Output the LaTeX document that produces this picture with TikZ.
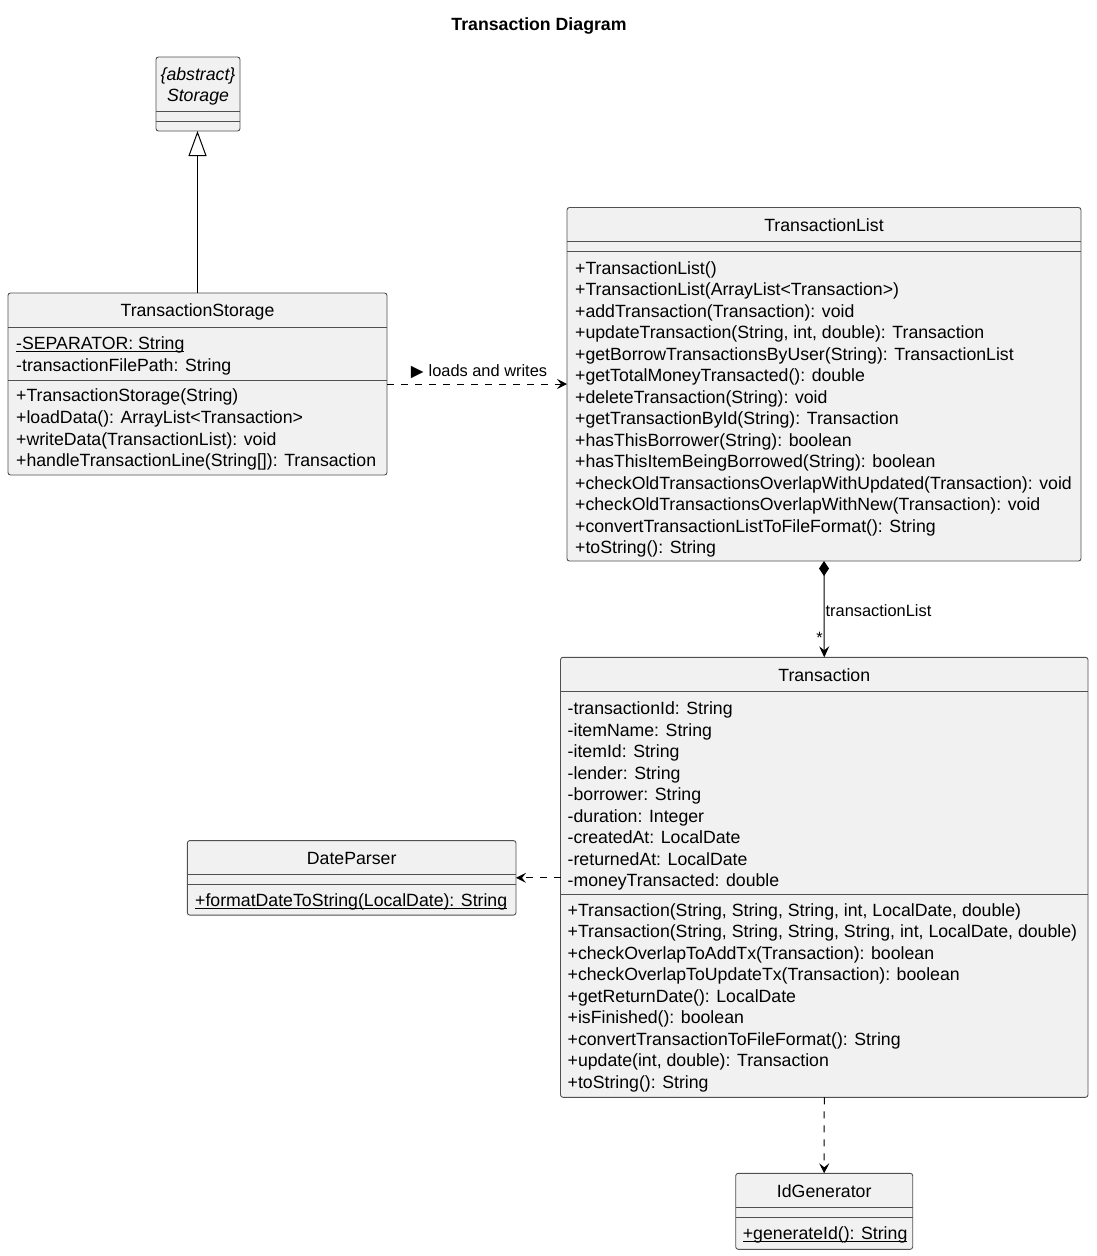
\documentclass[tikz,border=0pt]{standalone}
\usepackage{fontspec}
\setmainfont{Liberation Sans}
\usetikzlibrary{arrows.meta}
\definecolor{boxfill}{HTML}{F1F1F1}
\definecolor{boxline}{HTML}{505050}
% static members: thin rule just under the baseline
\newcommand\staticmember[1]{\setbox0\hbox{#1}\rlap{\rule[-2.2pt]{\wd0}{0.8pt}}\box0}
\tikzset{
  cls/.style={draw=boxline, fill=boxfill, line width=0.9pt, rounded corners=2.5pt, inner sep=0pt, outer sep=0pt},
  sepline/.style={draw=boxline, line width=0.9pt},
  member/.style={anchor=base west, inner sep=0pt, font=\fontsize{17.7}{21.5}\selectfont},
  clsname/.style={anchor=base, inner sep=0pt, font=\fontsize{17.7}{21.5}\selectfont},
  lbl/.style={inner sep=0pt, font=\fontsize{16.4}{19}\selectfont},
  depline/.style={line width=1pt, dash pattern=on 7pt off 7pt, -{Stealth[length=10pt,width=10pt,inset=4pt]}},
}
\begin{document}
\begin{tikzpicture}[x=1pt, y=-1pt, line join=round]
  \useasboundingbox[fill=white] (0,0) rectangle (1096,1256);
  \node[clsname, font=\fontsize{17.7}{21.5}\selectfont\bfseries] (title) at (539,30) {Transaction Diagram};

  % class boxes
  \node[cls, minimum width=84pt, minimum height=74pt] (storage) at (198,94) {};
  \node[cls, minimum width=379pt, minimum height=182pt] (tstore) at (197.5,384) {};
  \node[cls, minimum width=514pt, minimum height=353.5pt] (tlist) at (824,384.25) {};
  \node[cls, minimum width=527.5pt, minimum height=440pt] (tx) at (824.25,877.3) {};
  \node[cls, minimum width=328.7pt, minimum height=74.5pt] (dparser) at (351.65,877.85) {};
  \node[cls, minimum width=177pt, minimum height=76pt] (idgen) at (824.2,1211.3) {};

  % Storage
  \node[clsname, font=\fontsize{17.7}{21.5}\selectfont\itshape] (storageA) at (198,80.5) {\{abstract\}};
  \node[clsname, font=\fontsize{17.7}{21.5}\selectfont\itshape] (storageN) at (198,101) {Storage};
  \draw[sepline] (storage.west |- 0,111) -- (storage.east |- 0,111);
  \draw[sepline] (storage.west |- 0,121) -- (storage.east |- 0,121);

  % TransactionStorage
  \node[clsname] (tstoreN) at (197.5,316.7) {TransactionStorage};
  \draw[sepline] (tstore.west |- 0,327.3) -- (tstore.east |- 0,327.3);
  \node[member] (tstoreA1) at (16,349.5) {\staticmember{-SEPARATOR: String}};
  \node[member] (tstoreA2) at (16,371) {-transactionFilePath: String};
  \draw[sepline] (tstore.west |- 0,380) -- (tstore.east |- 0,380);
  \foreach \m [count=\i from 0] in {+TransactionStorage(String), +loadData(): ArrayList<Transaction>,
      +writeData(TransactionList): void, +handleTransactionLine(String[]): Transaction}
    \node[member] (tstoreM\i) at (16,401.8+21.6*\i) {\m};

  % TransactionList
  \node[clsname] (tlistN) at (824,231.7) {TransactionList};
  \draw[sepline] (tlist.west |- 0,241.7) -- (tlist.east |- 0,241.7);
  \draw[sepline] (tlist.west |- 0,251.7) -- (tlist.east |- 0,251.7);
  \foreach \m [count=\i from 0] in {+TransactionList(), +TransactionList(ArrayList<Transaction>),
      +addTransaction(Transaction): void, {+updateTransaction(String, int, double): Transaction},
      +getBorrowTransactionsByUser(String): TransactionList, +getTotalMoneyTransacted(): double,
      +deleteTransaction(String): void, +getTransactionById(String): Transaction,
      +hasThisBorrower(String): boolean, +hasThisItemBeingBorrowed(String): boolean,
      +checkOldTransactionsOverlapWithUpdated(Transaction): void,
      +checkOldTransactionsOverlapWithNew(Transaction): void,
      +convertTransactionListToFileFormat(): String, +toString(): String}
    \node[member] (tlistM\i) at (575,274+21.5*\i) {\m};

  % Transaction
  \node[clsname] (txN) at (824.25,681.7) {Transaction};
  \draw[sepline] (tx.west |- 0,691.7) -- (tx.east |- 0,691.7);
  \foreach \m [count=\i from 0] in {-transactionId: String, -itemName: String, -itemId: String,
      -lender: String, -borrower: String, -duration: Integer, -createdAt: LocalDate,
      -returnedAt: LocalDate, -moneyTransacted: double}
    \node[member] (txA\i) at (567.5,714.8+21.5*\i) {\m};
  \draw[sepline] (tx.west |- 0,894.5) -- (tx.east |- 0,894.5);
  \foreach \m [count=\i from 0] in {{+Transaction(String, String, String, int, LocalDate, double)},
      {+Transaction(String, String, String, String, int, LocalDate, double)},
      +checkOverlapToAddTx(Transaction): boolean, +checkOverlapToUpdateTx(Transaction): boolean,
      +getReturnDate(): LocalDate, +isFinished(): boolean,
      +convertTransactionToFileFormat(): String, {+update(int, double): Transaction},
      +toString(): String}
    \node[member] (txM\i) at (567.5,916.3+21.5*\i) {\m};

  % DateParser
  \node[clsname] (dparserN) at (351.65,864.3) {DateParser};
  \draw[sepline] (dparser.west |- 0,874) -- (dparser.east |- 0,874);
  \draw[sepline] (dparser.west |- 0,884) -- (dparser.east |- 0,884);
  \node[member] (dparserM) at (195,906.7) {\staticmember{+formatDateToString(LocalDate): String}};

  % IdGenerator
  \node[clsname] (idgenN) at (824.2,1197.3) {IdGenerator};
  \draw[sepline] (idgen.west |- 0,1207.3) -- (idgen.east |- 0,1207.3);
  \draw[sepline] (idgen.west |- 0,1217.3) -- (idgen.east |- 0,1217.3);
  \node[member] (idgenM) at (742.7,1239.3) {\staticmember{+generateId(): String}};

  % relations
  \draw[line width=1pt, -{Triangle[open, length=25pt, width=18pt, line width=1pt]}] (tstore.north) -- (tstore.north |- storage.south);
  \draw[depline] (tstore.east) -- (tlist.west |- tstore.east)
    node[lbl, pos=0.5, anchor=base, yshift=7.6pt] (loadsL) {\raisebox{-1.6pt}{\fontsize{21}{21}\selectfont ►}\hspace{1pt}loads and writes};
  \draw[line width=1pt, {Diamond[length=15pt, width=10pt]}-{Stealth[length=11pt, width=10pt, inset=4pt]}] (tlist.south) -- (tx.north)
    node[lbl, pos=0.58, anchor=base west, xshift=1pt] (compL) {transactionList}
    node[lbl, pos=0.86, anchor=base east, xshift=-1pt] (compM) {*};
  \draw[depline] (tx.west |- dparser.east) -- (dparser.east);
  \draw[depline] (tx.south) -- (idgen.north);
\end{tikzpicture}
\end{document}
